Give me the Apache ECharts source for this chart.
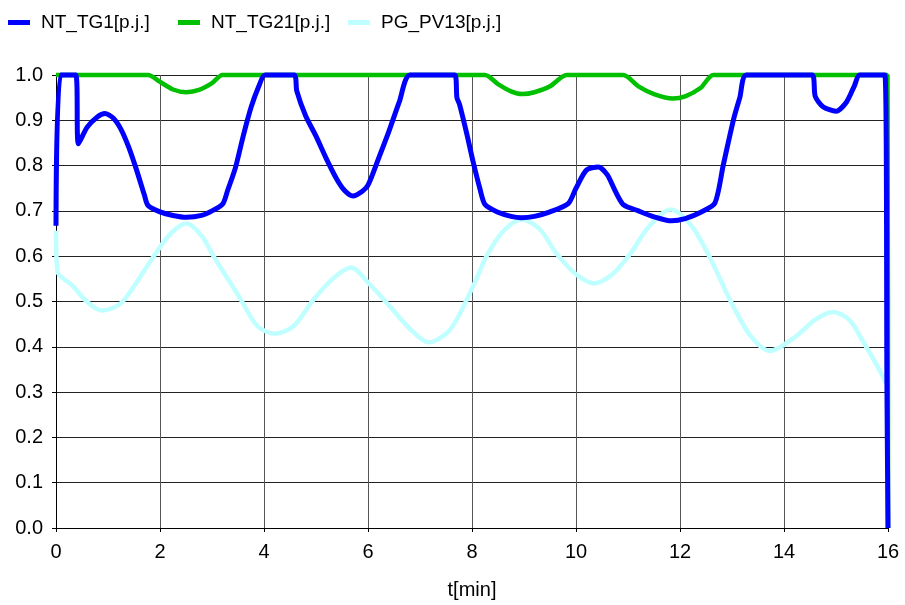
<!DOCTYPE html>
<html>
<head>
<meta charset="utf-8">
<script src="https://cdn.jsdelivr.net/npm/echarts@6/dist/echarts.min.js"></script>
<style>html,body{margin:0;padding:0;background:#fff}#c{width:905px;height:605px}</style>
</head>
<body>
<div id="c"></div>
<script>
var seriesNames = ['NT_TG1[p.j.]', 'NT_TG21[p.j.]', 'PG_PV13[p.j.]'];
var xTicks = [0, 2, 4, 6, 8, 10, 12, 14, 16];
var yTicks = [0.0, 0.1, 0.2, 0.3, 0.4, 0.5, 0.6, 0.7, 0.8, 0.9, 1.0];

var tg1T = [0, 0.09, 0.38, 0.43, 0.6, 0.8, 0.94, 1.1, 1.25, 1.4, 1.55, 1.7, 1.77, 2.0, 2.25, 2.51, 2.8, 3.0, 3.21, 3.3, 3.45, 3.6, 3.75, 3.9, 4.02,
  4.58, 4.63, 4.8, 5.0, 5.2, 5.4, 5.55, 5.71, 5.85, 6.0, 6.2, 6.4, 6.6, 6.81,
  7.67, 7.71, 7.76, 7.9, 8.02, 8.15, 8.25, 8.5, 8.75, 8.95, 9.2, 9.5, 9.85, 10.0, 10.2, 10.43, 10.6, 10.75, 10.91,
  11.2, 11.5, 11.84, 12.1, 12.4, 12.67, 12.83, 13.03, 13.15, 13.28, 14.54, 14.6, 14.75, 15.0, 15.2, 15.35, 15.46, 15.94, 15.98, 16.0];
var tg1V = [0.667, 1.0, 1.0, 0.848, 0.885, 0.908, 0.915, 0.905, 0.88, 0.84, 0.79, 0.735, 0.712, 0.698, 0.69, 0.686, 0.69, 0.70, 0.716, 0.745, 0.795, 0.865, 0.928, 0.975, 1.0,
  1.0, 0.965, 0.91, 0.865, 0.815, 0.77, 0.745, 0.733, 0.74, 0.757, 0.815, 0.875, 0.94, 1.0,
  1.0, 0.95, 0.935, 0.87, 0.809, 0.75, 0.714, 0.697, 0.688, 0.685, 0.688, 0.698, 0.716, 0.75, 0.79, 0.797, 0.78, 0.745, 0.714,
  0.70, 0.687, 0.678, 0.683, 0.697, 0.717, 0.80, 0.902, 0.95, 1.0, 1.0, 0.953, 0.93, 0.92, 0.94, 0.975, 1.0, 1.0, 0.3, 0.0];

var tg21T = [0, 1.77, 2.0, 2.25, 2.51, 2.75, 3.0, 3.2, 8.25, 8.5, 8.75, 8.97, 9.2, 9.5, 9.82, 10.91, 11.2, 11.5, 11.86, 12.1, 12.4, 12.64, 15.99, 16.0];
var tg21V = [1.0, 1.0, 0.985, 0.968, 0.962, 0.967, 0.982, 1.0, 1.0, 0.98, 0.964, 0.958, 0.962, 0.975, 1.0, 1.0, 0.975, 0.958, 0.948, 0.953, 0.972, 1.0, 1.0, 0.0];

var pv13T = [0, 0.03, 0.3, 0.59, 0.88, 1.2, 1.36, 1.68, 2.0, 2.25, 2.51, 2.8, 3.03, 3.54, 3.87, 4.21, 4.57, 4.95, 5.33, 5.67, 6.04, 6.42, 6.81, 7.16, 7.58, 8.03, 8.28, 8.6, 8.96, 9.3, 9.63, 10.0, 10.35, 10.7, 11.04, 11.4, 11.82, 12.2, 12.54, 12.96, 13.35, 13.73, 14.24, 14.6, 14.94, 15.25, 15.53, 15.91, 15.95];
var pv13V = [0.656, 0.565, 0.537, 0.50, 0.48, 0.492, 0.511, 0.565, 0.62, 0.655, 0.672, 0.645, 0.60, 0.507, 0.446, 0.429, 0.446, 0.504, 0.551, 0.575, 0.537, 0.489, 0.439, 0.41, 0.438, 0.536, 0.60, 0.655, 0.681, 0.66, 0.605, 0.56, 0.54, 0.56, 0.605, 0.665, 0.703, 0.67, 0.605, 0.504, 0.425, 0.391, 0.424, 0.46, 0.477, 0.46, 0.41, 0.333, 0.32];

var colors = ['#0000FF', '#00C000', '#C0FFFF'];

function pairs(t, v) { return t.map(function (x, i) { return [x, v[i]]; }); }

var chart = echarts.init(document.getElementById('c'), null, {renderer: 'canvas'});
var font = 'Liberation Sans, Arial, sans-serif';
function legendFor(i, left) {
  return {
    left: left, top: 8, itemWidth: 22, itemHeight: 5, icon: 'rect',
    textStyle: {fontFamily: font, fontSize: 19, color: '#000', padding: [0, 0, 0, 6]},
    data: [seriesNames[i]]
  };
}
chart.setOption({
  animation: false,
  backgroundColor: '#fff',
  legend: [legendFor(0, 3), legendFor(1, 173), legendFor(2, 343)],
  grid: {left: 56, right: 17, top: 75, bottom: 70, containLabel: false},
  xAxis: {
    type: 'value', min: 0, max: 16, interval: 2,
    name: 't[min]', nameLocation: 'middle', nameGap: 52,
    nameTextStyle: {fontFamily: font, fontSize: 20, color: '#000'},
    axisLine: {show: true, lineStyle: {color: '#000', width: 1}},
    axisTick: {show: true, length: 4, lineStyle: {color: '#000'}},
    axisLabel: {fontFamily: font, fontSize: 20, color: '#000', margin: 14,
      formatter: function (v) { return xTicks.indexOf(v) >= 0 ? String(v) : ''; }},
    splitLine: {show: true, lineStyle: {color: '#555', width: 1}}
  },
  yAxis: {
    type: 'value', min: 0, max: 1, interval: 0.1,
    axisLine: {show: true, lineStyle: {color: '#000', width: 1}},
    axisTick: {show: true, length: 4, lineStyle: {color: '#000'}},
    axisLabel: {fontFamily: font, fontSize: 20, color: '#000', margin: 13,
      formatter: function (v) { return v.toFixed(1); }},
    splitLine: {show: true, lineStyle: {color: '#222', width: 1}}
  },
  series: [
    {name: seriesNames[0], type: 'line', data: pairs(tg1T, tg1V), showSymbol: false, smooth: 0.25, clip: false, z: 5,
      color: colors[0], lineStyle: {width: 5, color: colors[0]}},
    {name: seriesNames[1], type: 'line', data: pairs(tg21T, tg21V), showSymbol: false, smooth: 0.25, clip: false, z: 4,
      color: colors[1], lineStyle: {width: 4.5, color: colors[1]}},
    {name: seriesNames[2], type: 'line', data: pairs(pv13T, pv13V), showSymbol: false, smooth: 0.3, clip: false, z: 3,
      color: colors[2], lineStyle: {width: 4.5, color: colors[2]}}
  ]
});
</script>
</body>
</html>
